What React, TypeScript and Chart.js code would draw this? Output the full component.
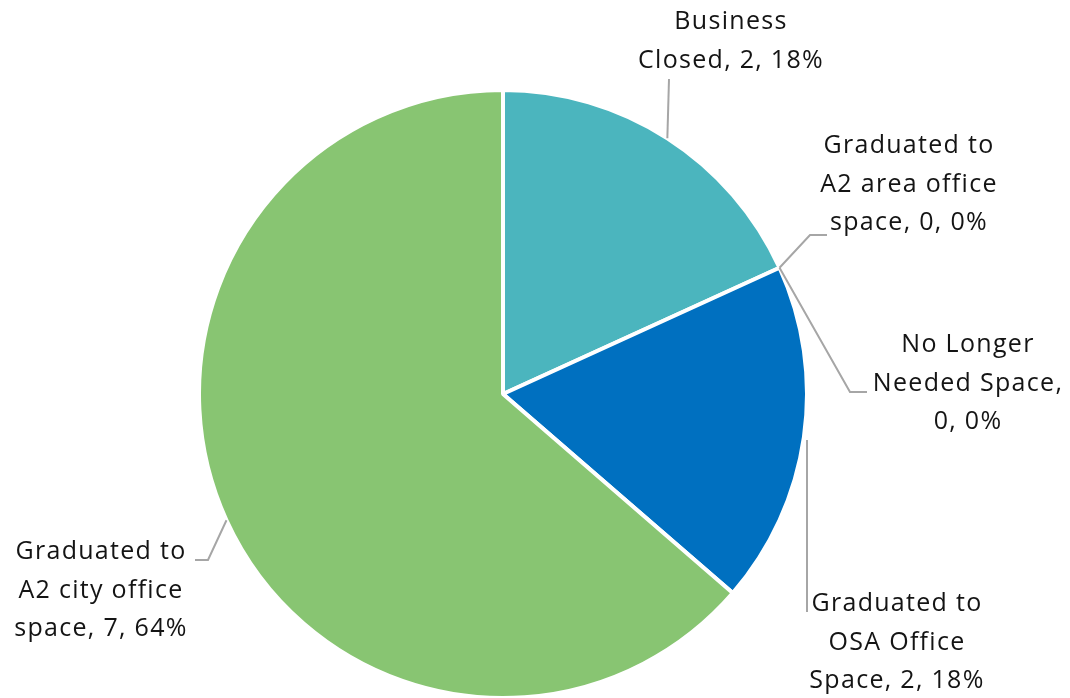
import React, { useEffect, useRef } from "react";
import { Chart, registerables } from "chart.js";

Chart.register(...registerables);

const categories = [
  "Business Closed",
  "Graduated to A2 area office space",
  "No Longer Needed Space",
  "Graduated to OSA Office Space",
  "Graduated to A2 city office space",
];
const values = [2, 0, 0, 2, 7];
const percents = ["18%", "0%", "0%", "18%", "64%"];
// label text split into lines as in the picture (last line ends with value & percent)
const labelLines = [
  ["Business", "Closed, 2, 18%"],
  ["Graduated to", "A2 area office", "space, 0, 0%"],
  ["No Longer", "Needed Space,", "0, 0%"],
  ["Graduated to", "OSA Office", "Space, 2, 18%"],
  ["Graduated to", "A2 city office", "space, 7, 64%"],
];
const sliceColors = ["#4BB5BE", "#ED7D31", "#A5A5A5", "#0070C0", "#88C572"];

// layout of the data labels (text centre x, first line y) and leader line bends
const labelLayout = [
  { x: 731, y: 22, path: [[669, 79]] },
  { x: 909, y: 146, path: [[810, 235], [827, 235]] },
  { x: 968, y: 345, path: [[850, 392], [867, 392]] },
  { x: 897, y: 604, path: [[807, 612]], start: [807, 440] },
  { x: 101, y: 552, path: [[208, 560], [195, 560]] },
];
const LINE_HEIGHT = 38.5;

const labelPlugin = {
  id: "pieLabels",
  afterDraw(chart: any) {
    const ctx = chart.ctx;
    const meta = chart.getDatasetMeta(0);
    ctx.save();
    meta.data.forEach((arc: any, i: number) => {
      const p = arc.getProps(["x", "y", "startAngle", "endAngle", "outerRadius"], true);
      const mid = (p.startAngle + p.endAngle) / 2;
      const lay = labelLayout[i];
      const ax = p.x + Math.cos(mid) * p.outerRadius;
      const ay = p.y + Math.sin(mid) * p.outerRadius;
      ctx.beginPath();
      ctx.strokeStyle = "#A6A6A6";
      ctx.lineWidth = 2;
      const s = lay.start || [ax, ay];
      ctx.moveTo(s[0], s[1]);
      lay.path.forEach((pt: number[]) => ctx.lineTo(pt[0], pt[1]));
      ctx.stroke();

      ctx.fillStyle = "#141414";
      ctx.font = "500 25px 'Open Sans'";
      (ctx as any).letterSpacing = "1.3px";
      ctx.textAlign = "center";
      ctx.textBaseline = "middle";
      labelLines[i].forEach((line, j) => {
        ctx.fillText(line, lay.x, lay.y + j * LINE_HEIGHT);
      });
    });
    ctx.restore();
  },
};

export default function App() {
  const ref = useRef<HTMLCanvasElement | null>(null);
  useEffect(() => {
    document.body.style.margin = "0";
    const chart = new Chart(ref.current as HTMLCanvasElement, {
      type: "pie",
      data: {
        labels: categories,
        datasets: [
          {
            data: values,
            backgroundColor: sliceColors,
            borderColor: "#FFFFFF",
            borderWidth: 4,
          },
        ],
      },
      options: {
        responsive: false,
        animation: false,
        radius: 304,
        layout: { padding: { left: 200, right: 264, top: 91, bottom: 1 } },
        plugins: {
          legend: { display: false },
          tooltip: { enabled: false },
        },
      } as any,
      plugins: [labelPlugin],
    });
    return () => chart.destroy();
  }, []);
  return (
    <div style={{ width: 1070, height: 698, background: "#fff" }}>
      <canvas ref={ref} width={1070} height={698} style={{ display: "block" }} />
    </div>
  );
}
